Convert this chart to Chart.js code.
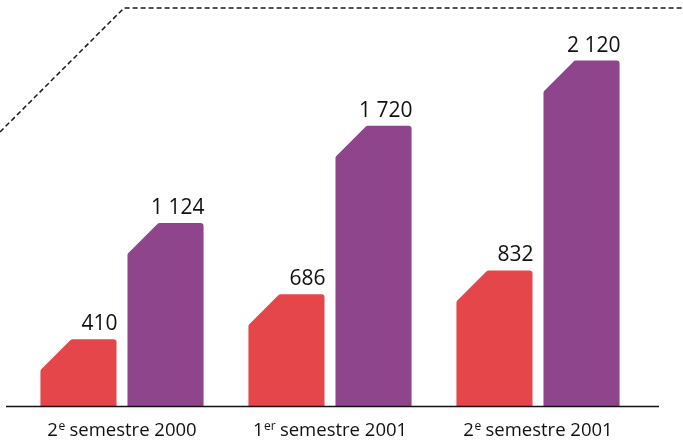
<!DOCTYPE html>
<html>
<head>
<meta charset="utf-8">
<script src="https://cdn.jsdelivr.net/npm/chart.js@4"></script>
<style>
  html, body { margin: 0; padding: 0; background: #fff; }
  #wrap { width: 683px; height: 442px; }
</style>
</head>
<body>
<div id="wrap"><canvas id="myChart"></canvas></div>
<script>
const canvas = document.getElementById('myChart')

// data
const categories = ['2e semestre 2000', '1er semestre 2001', '2e semestre 2001']
const catMain = ['2', '1', '2']
const catSup = ['e', 'er', 'e']
const catRest = [' semestre 2000', ' semestre 2001', ' semestre 2001']
const seriesRed = [410, 686, 832]
const seriesPurple = [1124, 1720, 2120]

const RED = 'rgb(229, 70, 74)'
const PURPLE = 'rgb(142, 69, 140)'
const FONT = '"Open Sans", "Noto Sans", sans-serif'

function fmt(n){
    return String(n).replace(/\B(?=(\d{3})+(?!\d))/g, ' ')
}

// bars with a cut top-left corner
const chamferBars = {
    id: 'chamferBars',
    beforeDatasetsDraw(chart){
        const ctx = chart.ctx
        chart.data.datasets.forEach((ds, i) => {
            const meta = chart.getDatasetMeta(i)
            meta.data.forEach(bar => {
                const left = bar.x - bar.width / 2
                const right = bar.x + bar.width / 2
                const top = bar.y
                const base = bar.base
                const c = Math.min(31, base - top)
                const r = 3
                ctx.save()
                ctx.fillStyle = ds.backgroundColor
                ctx.beginPath()
                ctx.moveTo(left, base)
                ctx.arcTo(left, top + c, left + c, top, r)
                ctx.arcTo(left + c, top, right, top, r)
                ctx.arcTo(right, top, right, base, r)
                ctx.lineTo(right, base)
                ctx.closePath()
                ctx.fill()
                ctx.restore()
            })
        })
        return false
    },
    afterDraw(chart){
        const ctx = chart.ctx
        const area = chart.chartArea
        ctx.save()
        // value labels, right aligned on the bar
        ctx.fillStyle = '#111'
        ctx.font = '21px ' + FONT
        ctx.textAlign = 'right'
        ctx.textBaseline = 'alphabetic'
        chart.data.datasets.forEach((ds, i) => {
            chart.getDatasetMeta(i).data.forEach((bar, j) => {
                ctx.fillText(fmt(ds.data[j]), bar.x + bar.width / 2 + 1, bar.y - 9)
            })
        })
        // baseline
        ctx.strokeStyle = '#111'
        ctx.lineWidth = 1.5
        ctx.beginPath()
        ctx.moveTo(6, area.bottom + 0.5)
        ctx.lineTo(659, area.bottom + 0.5)
        ctx.stroke()
        // category labels with superscripts
        const xs = chart.scales.x
        const big = '18.5px ' + FONT
        const small = '12px ' + FONT
        ctx.textAlign = 'left'
        categories.forEach((c, i) => {
            const cx = xs.getPixelForTick(i)
            ctx.font = big
            const w1 = ctx.measureText(catMain[i]).width
            const w3 = ctx.measureText(catRest[i]).width
            ctx.font = small
            const w2 = ctx.measureText(catSup[i]).width
            let x = cx - (w1 + w2 + w3) / 2
            const y = 436
            ctx.font = big
            ctx.fillText(catMain[i], x, y)
            x += w1
            ctx.font = small
            ctx.fillText(catSup[i], x + 0.5, y - 6)
            x += w2
            ctx.font = big
            ctx.fillText(catRest[i], x, y)
        })
        // dashed frame decoration
        ctx.strokeStyle = '#1a1a1a'
        ctx.lineWidth = 1.5
        ctx.setLineDash([5, 3])
        ctx.beginPath()
        ctx.moveTo(0, 132)
        ctx.lineTo(124, 8)
        ctx.lineTo(683, 8)
        ctx.stroke()
        ctx.restore()
    }
}

const config = {
    type: 'bar',
    data: {
        labels: categories,
        datasets: [
            { label: 'rouge', data: seriesRed, backgroundColor: RED },
            { label: 'violet', data: seriesPurple, backgroundColor: PURPLE }
        ]
    },
    options: {
        responsive: true,
        maintainAspectRatio: false,
        animation: false,
        categoryPercentage: 0.837,
        barPercentage: 0.874,
        layout: {
            padding: { left: 18, right: 41, top: 15, bottom: 36 }
        },
        plugins: {
            legend: { display: false },
            tooltip: { enabled: false }
        },
        scales: {
            x: { display: false },
            y: { display: false, min: 0, max: 2400 }
        }
    },
    plugins: [chamferBars]
}

new Chart(canvas, config)
</script>
</body>
</html>
